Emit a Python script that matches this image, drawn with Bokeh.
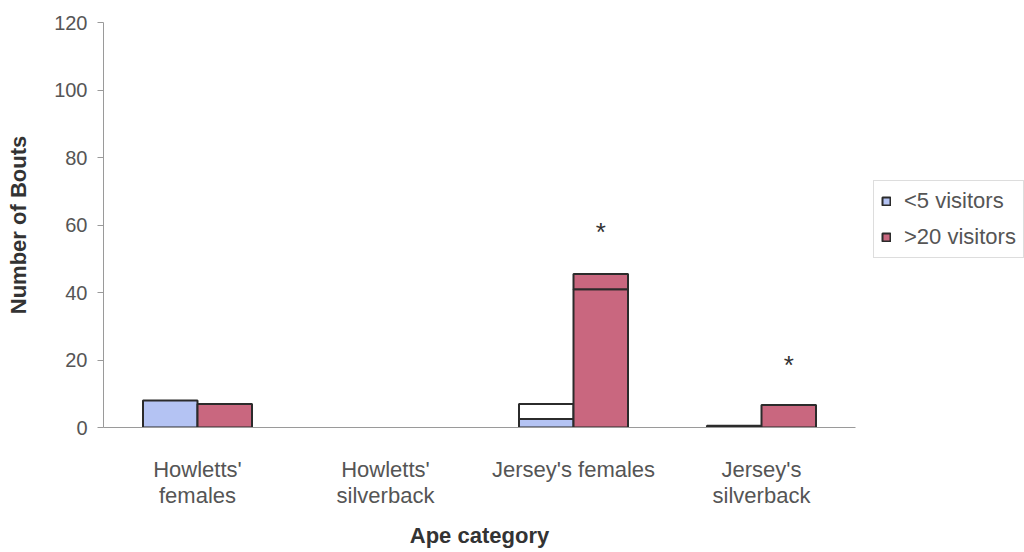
from bokeh.plotting import figure
from bokeh.models import (FactorRange, ColumnDataSource, Legend, LegendItem, Range1d)
from bokeh.transform import dodge
from bokeh.core.properties import value
from bokeh.embed import file_html
from bokeh.resources import INLINE

# ---- data ----
categories = ["Howletts'\nfemales", "Howletts'\nsilverback", "Jersey's females", "Jersey's\nsilverback"]
lt5_visitors = [8, 0, 2.5, 0.5]          # <5 visitors (filled part)
lt5_upper = [8, 0, 7, 0.5]               # outlined upper segment top
gt20_visitors = [7, 0, 41, 6.7]          # >20 visitors (lower part)
gt20_upper = [7, 0, 45.5, 6.7]           # upper segment top
asterisk_y = [None, None, 58, 18.5]      # significance markers on >20 bars
y_ticks = [0, 20, 40, 60, 80, 100, 120]

FONT = "Liberation Sans"
BLUE = "#B4C3F3"
RED = "#C9677F"
EDGE = "#2b2b2b"

p = figure(x_range=FactorRange(*categories, range_padding=0),
           y_range=Range1d(0, 120),
           frame_width=752, frame_height=405,
           min_border_left=103, min_border_right=165,
           min_border_top=22, min_border_bottom=122,
           output_backend="svg", toolbar_location=None,
           background_fill_color="white", border_fill_color="white")
p.outline_line_color = None
p.xgrid.grid_line_color = None
p.ygrid.grid_line_color = None

def src(lo, hi):
    keep = [i for i in range(len(categories)) if hi[i] > lo[i]]
    return ColumnDataSource(dict(cat=[categories[i] for i in keep],
                                 bottom=[lo[i] for i in keep],
                                 top=[hi[i] for i in keep]))

zeros = [0] * len(categories)
r_lt5 = p.vbar(x=dodge("cat", -0.145, range=p.x_range), width=0.29,
               bottom="bottom", top="top", source=src(zeros, lt5_visitors),
               fill_color=BLUE, line_color=EDGE, line_width=2)
p.vbar(x=dodge("cat", -0.145, range=p.x_range), width=0.29,
       bottom="bottom", top="top", source=src(lt5_visitors, lt5_upper),
       fill_color="white", line_color=EDGE, line_width=2)
r_gt20 = p.vbar(x=dodge("cat", 0.145, range=p.x_range), width=0.29,
                bottom="bottom", top="top", source=src(zeros, gt20_visitors),
                fill_color=RED, line_color=EDGE, line_width=2)
p.vbar(x=dodge("cat", 0.145, range=p.x_range), width=0.29,
       bottom="bottom", top="top", source=src(gt20_visitors, gt20_upper),
       fill_color=RED, line_color=EDGE, line_width=2)

ast = ColumnDataSource(dict(cat=[c for c, a in zip(categories, asterisk_y) if a is not None],
                            y=[a for a in asterisk_y if a is not None],
                            t=["*" for a in asterisk_y if a is not None]))
p.text(x=dodge("cat", 0.145, range=p.x_range), y="y", text="t", source=ast,
       text_font=value(FONT), text_font_size="26px", text_color="#333333",
       text_align="center", text_baseline="middle")

# axes
p.yaxis.ticker = y_ticks
p.yaxis.minor_tick_line_color = None
p.yaxis.major_tick_in = 0
p.yaxis.major_tick_out = 6
p.yaxis.axis_line_color = "#9a9a9a"
p.yaxis.major_tick_line_color = "#9a9a9a"
p.yaxis.major_label_text_font = FONT
p.yaxis.major_label_text_font_size = "20px"
p.yaxis.major_label_text_color = "#555555"
p.yaxis.major_label_standoff = 10
p.yaxis.axis_label = "Number of Bouts"
p.yaxis.axis_label_text_font = FONT
p.yaxis.axis_label_text_font_size = "22px"
p.yaxis.axis_label_text_font_style = "bold"
p.yaxis.axis_label_text_color = "#333333"
p.yaxis.axis_label_standoff = 20

p.xaxis.major_tick_line_color = None
p.xaxis.minor_tick_line_color = None
p.xaxis.axis_line_color = "#9a9a9a"
p.xaxis.major_label_text_font = FONT
p.xaxis.major_label_text_font_size = "22px"
p.xaxis.major_label_text_line_height = 1.05
p.xaxis.major_label_text_color = "#555555"
p.xaxis.major_label_standoff = 23
p.xaxis.axis_label = "Ape category"
p.xaxis.axis_label_text_font = FONT
p.xaxis.axis_label_text_font_size = "22px"
p.xaxis.axis_label_text_font_style = "bold"
p.xaxis.axis_label_text_color = "#333333"
p.xaxis.axis_label_standoff = 12

legend = Legend(items=[LegendItem(label="<5 visitors", renderers=[r_lt5]),
                       LegendItem(label=">20 visitors", renderers=[r_gt20])],
                location=(18, 169))
legend.glyph_width = 10
legend.glyph_height = 10
legend.label_height = 20
legend.label_standoff = 13
legend.spacing = 10
legend.padding = 7
legend.margin = 0
legend.label_text_font = FONT
legend.label_text_font_size = "22px"
legend.label_text_color = "#555555"
legend.border_line_color = "#bbbbbb"
legend.border_line_width = 1
legend.background_fill_color = "white"
legend.background_fill_alpha = 1
p.add_layout(legend, "right")

open("out.html", "w").write(file_html(p, INLINE))
